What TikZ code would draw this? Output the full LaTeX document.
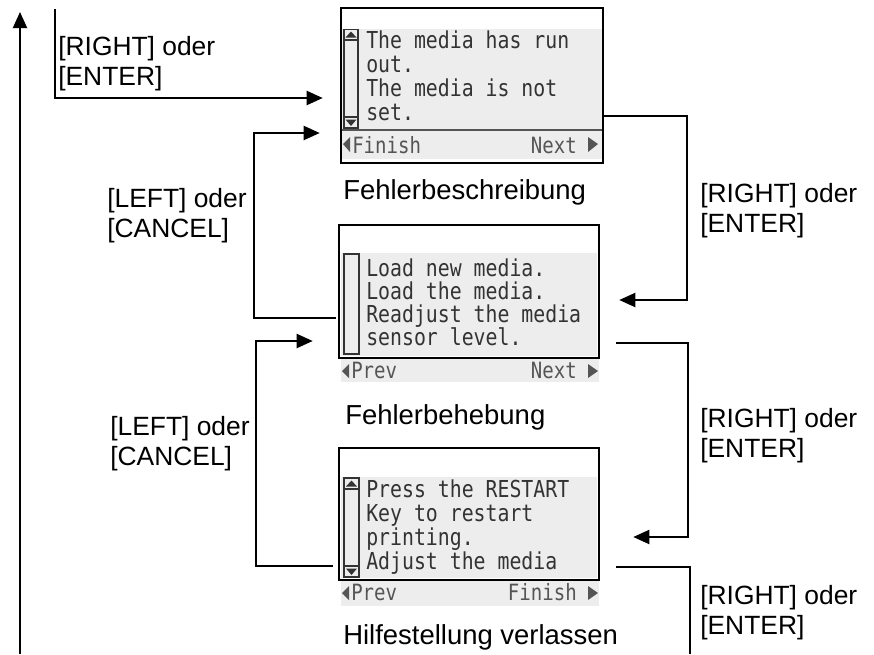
\documentclass[tikz,border=0pt]{standalone}
\usepackage{fontspec}
\setmainfont{Liberation Sans}
\newfontfamily\lcd[FakeStretch=0.85]{DejaVu Sans Mono}
\usetikzlibrary{arrows.meta,fit}
\definecolor{scr}{HTML}{EDEDED}
\definecolor{ink}{HTML}{333333}
\definecolor{foot}{HTML}{555555}
\begin{document}
\begin{tikzpicture}[x=0.75pt,y=-0.75pt,
  conn/.style={line width=1.5pt},
  arr/.style={conn,-{Triangle[length=12pt,width=10.5pt]}},
  lbl/.style={anchor=west,align=left,inner sep=0pt,font=\fontsize{19.8}{22.5}\selectfont},
  captxt/.style={anchor=base west,inner sep=0pt,font=\fontsize{20.6}{22.5}\selectfont},
  lcdtxt/.style={anchor=base west,inner sep=0pt,text=ink,font=\lcd\fontsize{17.5}{18}\selectfont},
  foottxt/.style={inner sep=0pt,text=foot,font=\lcd\fontsize{16.8}{18}\selectfont},
  frame/.style={line width=1.5pt},
  sbar/.style={draw=ink,line width=0.9pt},
  tri/.style={fill=foot}
]
\useasboundingbox (0,0) rectangle (874,654);
\fill[white] (0,0) rectangle (874,654);

% ---------- screen 1 ----------
\fill[scr] (342,29) rectangle (602,129);
\fill[scr] (342,131) rectangle (602,159);
\draw[foot,line width=1.5pt] (342,130) -- (602,130);
\draw[sbar] (344,29.5) rectangle (358,128);
\draw[sbar] (344,40) -- (358,40);
\draw[sbar] (344,117) -- (358,117);
\fill[ink] (345.5,37.5) -- (356.5,37.5) -- (351,31.5) -- cycle;
\fill[ink] (345.5,119.5) -- (356.5,119.5) -- (351,126) -- cycle;
\node[lcdtxt] (t11) at (366,48) {The media has run};
\node[lcdtxt] (t12) at (366,72) {out.};
\node[lcdtxt] (t13) at (366,96) {The media is not};
\node[lcdtxt] (t14) at (366,120) {set.};
\fill[tri] (343,144) -- (350,137) -- (350,152) -- cycle;
\node[foottxt,anchor=base west] (f11) at (352,153) {Finish};
\node[foottxt,anchor=base east] (f12) at (577,153) {Next};
\fill[tri] (598,144) -- (588,137) -- (588,152) -- cycle;
\draw[frame] (341,8) rectangle (603,163);
\node[fit={(341,8) (603,163)},inner sep=0pt] (s1) {};
\node[captxt] (c1) at (343,199) {Fehlerbeschreibung};

% ---------- screen 2 ----------
\fill[scr] (341,253) rectangle (597,356);
\fill[scr] (341,359) rectangle (599,382);
\draw[sbar] (344,254) rectangle (359,354);
\node[lcdtxt] (t21) at (366,276) {Load new media.};
\node[lcdtxt] (t22) at (366,299) {Load the media.};
\node[lcdtxt] (t23) at (366,322) {Readjust the media};
\node[lcdtxt] (t24) at (366,345) {sensor level.};
\fill[tri] (342,371) -- (349,364) -- (349,378) -- cycle;
\node[foottxt,anchor=base west] (f21) at (351,378) {Prev};
\node[foottxt,anchor=base east] (f22) at (577,378) {Next};
\fill[tri] (598,371) -- (588,364) -- (588,378) -- cycle;
\draw[frame] (339,225) rectangle (599,358);
\node[fit={(339,225) (599,358)},inner sep=0pt] (s2) {};
\node[captxt] (c2) at (345,424) {Fehlerbehebung};

% ---------- screen 3 ----------
\fill[scr] (341,477) rectangle (597,578);
\fill[scr] (341,581) rectangle (599,606);
\draw[sbar] (344,478) rectangle (359,577);
\draw[sbar] (344,489) -- (359,489);
\draw[sbar] (344,566) -- (359,566);
\fill[ink] (346,486.5) -- (357,486.5) -- (351.5,480.5) -- cycle;
\fill[ink] (346,568.5) -- (357,568.5) -- (351.5,575) -- cycle;
\node[lcdtxt] (t31) at (366,497) {Press the RESTART};
\node[lcdtxt] (t32) at (366,521) {Key to restart};
\node[lcdtxt] (t33) at (366,545) {printing.};
\node[lcdtxt] (t34) at (366,569) {Adjust the media};
\fill[tri] (342,593) -- (349,586) -- (349,600) -- cycle;
\node[foottxt,anchor=base west] (f31) at (351,600) {Prev};
\node[foottxt,anchor=base east] (f32) at (577,600) {Finish};
\fill[tri] (598,593) -- (588,586) -- (588,600) -- cycle;
\draw[frame] (339,448) rectangle (599,580);
\node[fit={(339,448) (599,580)},inner sep=0pt] (s3) {};
\node[captxt] (c3) at (343,644) {Hilfestellung verlassen};

% ---------- connectors ----------
\coordinate (bot) at (20,654);
\coordinate (top) at (20,12);
\draw[arr] (bot) -- (top);

\coordinate (entry) at (55,9);
\draw[arr,shorten >=13.5pt] (entry) |- (s1.west |- 0,98);
\node[lbl] (l0) at (58,64) {[RIGHT] oder\\{}[ENTER]};

\draw[arr,shorten >=15.75pt,shorten <=2pt] (s2.west |- 0,318) -- (254,318) |- (s1.west |- 0,133);
\node[lbl] (l1) at (107,216) {[LEFT] oder\\{}[CANCEL]};

\draw[arr,shorten >=19.5pt,shorten <=4pt] (s3.west |- 0,566) -- (256,566) |- (s2.west |- 0,341);
\node[lbl] (l2) at (110,444) {[LEFT] oder\\{}[CANCEL]};

\draw[arr,shorten >=15pt] (s1.east |- 0,116) -| (687,300) -- (s2.east |- 0,300);
\node[lbl] (r1) at (700,211) {[RIGHT] oder\\{}[ENTER]};

\draw[arr,shorten <=12.75pt,shorten >=25.5pt] (s2.east |- 0,343) -| (688,537) -- (s3.east |- 0,537);
\node[lbl] (r2) at (700,436) {[RIGHT] oder\\{}[ENTER]};

\coordinate (exit) at (690,654);
\draw[conn,shorten <=12.75pt] (s3.east |- 0,567) -| (exit);
\node[lbl] (r3) at (700,613) {[RIGHT] oder\\{}[ENTER]};
\end{tikzpicture}
\end{document}
